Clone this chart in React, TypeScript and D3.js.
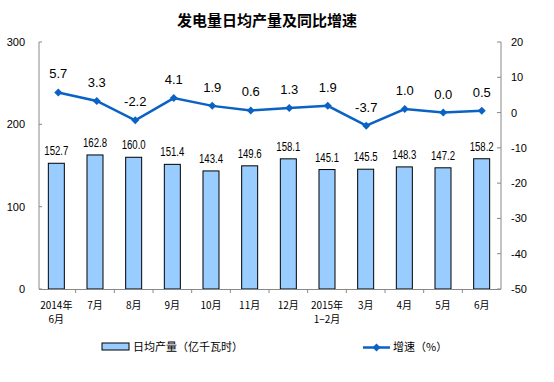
import React from "react";
import * as d3 from "d3";

const categories = ["2014年\n6月", "7月", "8月", "9月", "10月", "11月", "12月", "2015年\n1−2月", "3月", "4月", "5月", "6月"];
const dailyOutput = [152.7, 162.8, 160.0, 151.4, 143.4, 149.6, 158.1, 145.1, 145.5, 148.3, 147.2, 158.2];
const growth = [5.7, 3.3, -2.2, 4.1, 1.9, 0.6, 1.3, 1.9, -3.7, 1.0, 0.0, 0.5];
const leftTicks = [0, 100, 200, 300];
const rightTicks = [20, 10, 0, -10, -20, -30, -40, -50];

const W = 554;
const H = 382;
const FONT = "'Liberation Sans', Arial, 'Noto Sans CJK SC', sans-serif";
const CJK = "'Noto Sans CJK SC', 'Liberation Sans', sans-serif";

export default function App() {
  const top = 42;
  const bottom = 289;
  const left = 39;
  const right = 501;

  const yL = d3.scaleLinear().domain([0, 300]).range([bottom, top]);
  const yR = d3.scaleLinear().domain([-50, 20]).range([bottom, top]);
  const xBar = d3.scaleBand<string>().domain(categories).range([37, 501]);
  const xLine = d3.scaleBand<string>().domain(categories).range([left, right]);
  const barW = 16;
  const lineColor = "#0a62c4";

  const linePath = d3
    .line<number>()
    .x((_, i) => xLine(categories[i])! + xLine.bandwidth() / 2)
    .y((d) => yR(d))(growth);

  const diamond = (cx: number, cy: number, r: number) =>
    `M${cx},${cy - r}L${cx + r},${cy}L${cx},${cy + r}L${cx - r},${cy}Z`;

  const boundaries = d3.range(categories.length + 1).map((i) => 37 + i * xBar.step());

  return (
    <svg width={W} height={H} style={{ position: "absolute", left: 0, top: 0, background: "#fff" }}>
      <rect x={0} y={0} width={W} height={H} fill="#fff" />
      <text x={267} y={26} textAnchor="middle" fontFamily={CJK} fontSize={15} fontWeight="bold" fill="#000">
        发电量日均产量及同比增速
      </text>

      {/* bars */}
      {dailyOutput.map((v, i) => {
        const cx = xBar(categories[i])! + xBar.bandwidth() / 2;
        return (
          <g key={"b" + i}>
            <rect x={cx - barW / 2} y={yL(v)} width={barW} height={bottom - yL(v)} fill="#99ccff" stroke="#000" strokeWidth={1} />
            <g transform={`translate(${cx},${yL(v) - 8}) scale(0.74,1)`}>
              <text textAnchor="middle" fontFamily={FONT} fontSize={13} fill="#000">
                {v.toFixed(1)}
              </text>
            </g>
          </g>
        );
      })}

      {/* axes */}
      <line x1={left} x2={left} y1={top} y2={bottom} stroke="#888" />
      <line x1={right} x2={right} y1={top} y2={bottom} stroke="#888" />
      <line x1={left} x2={right} y1={bottom + 0.5} y2={bottom + 0.5} stroke="#888" />
      {leftTicks.map((t) => (
        <g key={"lt" + t}>
          <line x1={left} x2={left + 3} y1={yL(t)} y2={yL(t)} stroke="#888" />
          <text x={25} y={yL(t) + 4} textAnchor="end" fontFamily={FONT} fontSize={11} fill="#000">
            {t}
          </text>
        </g>
      ))}
      {rightTicks.map((t) => (
        <g key={"rt" + t}>
          <line x1={right - 4} x2={right} y1={yR(t)} y2={yR(t)} stroke="#888" />
          <text x={511} y={yR(t) + 4} textAnchor="start" fontFamily={FONT} fontSize={11} fill="#000">
            {t}
          </text>
        </g>
      ))}
      {boundaries.slice(1, -1).map((b, i) => (
        <line key={"bt" + i} x1={b} x2={b} y1={bottom} y2={bottom + 4} stroke="#888" />
      ))}
      {categories.map((c, i) => {
        const cx = xBar(c)! + xBar.bandwidth() / 2;
        const lines = c.split("\n");
        return (
          <text key={"xl" + i} textAnchor="middle" fontFamily={CJK} fontSize={10} fill="#000">
            {lines.map((l, j) => (
              <tspan key={j} x={cx} y={309 + j * 14}>
                {l}
              </tspan>
            ))}
          </text>
        );
      })}

      {/* line */}
      <path d={linePath || ""} fill="none" stroke={lineColor} strokeWidth={2.5} />
      {growth.map((v, i) => {
        const cx = xLine(categories[i])! + xLine.bandwidth() / 2;
        return (
          <g key={"p" + i}>
            <path d={diamond(cx, yR(v), 4)} fill={lineColor} />
            <text x={cx} y={yR(v) - 14} textAnchor="middle" fontFamily={FONT} fontSize={13} fill="#000">
              {v.toFixed(1)}
            </text>
          </g>
        );
      })}

      {/* legend */}
      <rect x={102} y={343} width={27} height={7} fill="#99ccff" stroke="#000" strokeWidth={1} />
      <text x={133} y={351} fontFamily={CJK} fontSize={11} fill="#000">
        日均产量（亿千瓦时）
      </text>
      <line x1={363} x2={390} y1={347.5} y2={347.5} stroke={lineColor} strokeWidth={2.5} />
      <path d={diamond(376.5, 347.5, 4)} fill={lineColor} />
      <text x={393} y={351} fontFamily={CJK} fontSize={11} fill="#000">
        增速（%）
      </text>
    </svg>
  );
}
